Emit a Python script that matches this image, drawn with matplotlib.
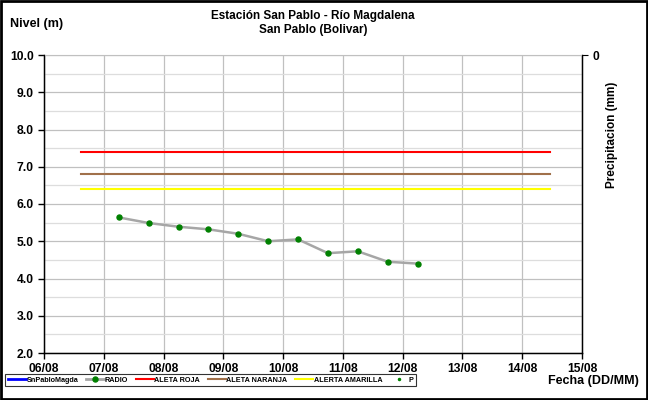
import matplotlib
matplotlib.use("Agg")
import matplotlib.pyplot as plt
import matplotlib.dates as mdates
from matplotlib.lines import Line2D
from matplotlib.patches import Rectangle
from datetime import datetime, timedelta

plt.rcParams['font.family'] = ['Liberation Sans', 'DejaVu Sans']
plt.rcParams['font.weight'] = 'bold'

title = "Estación San Pablo - Río Magdalena\nSan Pablo (Bolivar)"
radio_times = [datetime(2013, 8, 7, 6) + timedelta(hours=12 * i) for i in range(11)]
radio_levels = [5.64, 5.49, 5.39, 5.32, 5.20, 5.00, 5.05, 4.68, 4.73, 4.45, 4.40]
alert_span = [datetime(2013, 8, 6, 15), datetime(2013, 8, 14, 11)]
alerta_roja = 7.4
alerta_naranja = 6.8
alerta_amarilla = 6.4
x_start = datetime(2013, 8, 6)
x_end = datetime(2013, 8, 15)
y_ticks = [2.0, 3.0, 4.0, 5.0, 6.0, 7.0, 8.0, 9.0, 10.0]

fig = plt.figure(figsize=(6.48, 4.0), dpi=100)
ax = fig.add_axes([44/648, 47/400, 538/648, 298/400])

ax.plot(alert_span, [alerta_roja, alerta_roja], color='#FF0000', lw=1.5, zorder=3)
ax.plot(alert_span, [alerta_naranja, alerta_naranja], color='#A0704A', lw=1.5, zorder=3)
ax.plot(alert_span, [alerta_amarilla, alerta_amarilla], color='#FFFF00', lw=1.5, zorder=3)
ax.plot(radio_times, radio_levels, color='#A6A6A6', lw=1.8, marker='o', ms=3.6,
        mfc='#008000', mec='#008000', zorder=4)

ax.set_xlim(x_start, x_end)
ax.set_ylim(2.0, 10.0)
ax.xaxis.set_major_locator(mdates.DayLocator())
ax.xaxis.set_major_formatter(mdates.DateFormatter('%d/%m'))
ax.set_yticks(y_ticks)
ax.set_yticklabels([f"{v:.1f}" for v in y_ticks])
ax.set_yticks([v + 0.5 for v in y_ticks[:-1]], minor=True)
ax.grid(True, which='major', color='#C0C0C0', lw=0.9)
ax.grid(True, which='minor', axis='y', color='#DDDDDD', lw=0.9)
ax.tick_params(axis='both', which='major', labelsize=8.7, length=4, direction='out', width=1)
ax.tick_params(axis='x', pad=3.5)
ax.tick_params(axis='y', which='minor', length=0)
for s in ['left', 'bottom', 'right']:
    ax.spines[s].set_color('black')
    ax.spines[s].set_linewidth(1)
ax.spines['top'].set_color('#C0C0C0')
for lbl in ax.get_xticklabels() + ax.get_yticklabels():
    lbl.set_fontweight('bold')

ax2 = ax.twinx()
ax2.set_ylim(1, 0)
ax2.set_yticks([0])
ax2.set_yticklabels(['0'], fontweight='bold')
ax2.tick_params(axis='y', labelsize=8.7, length=4, direction='out')
ax2.spines['right'].set_color('black')
ax2.spines['top'].set_visible(False)
ax2.set_ylabel('Precipitacion (mm)', fontsize=8.5, fontweight='bold')
ax2.yaxis.set_label_coords(1.044, 0.733)

fig.text(313/648, 0.975, title, ha='center', va='top', fontsize=8.5, fontweight='bold', linespacing=1.25)
fig.text(0.015, 0.94, 'Nivel (m)', ha='left', va='center', fontsize=9, fontweight='bold')
fig.text(0.986, 0.048, 'Fecha (DD/MM)', ha='right', va='center', fontsize=9, fontweight='bold')

handles = [
    Line2D([], [], color='#0000FF', lw=2),
    Line2D([], [], color='#A6A6A6', lw=2, marker='o', ms=3.6, mfc='#008000', mec='#008000'),
    Line2D([], [], color='#FF0000', lw=1.5),
    Line2D([], [], color='#A0704A', lw=1.5),
    Line2D([], [], color='#FFFF00', lw=1.5),
    Line2D([], [], color='#008000', lw=0, marker='o', ms=1.5),
]
labels = ['SnPabloMagda', 'RADIO', 'ALETA ROJA', 'ALETA NARANJA', 'ALERTA AMARILLA', 'P']
leg = fig.legend(handles, labels, loc='center left', bbox_to_anchor=(0.008, 0.049),
                 ncol=6, frameon=True, fancybox=False, edgecolor='black',
                 handlelength=2.5, handletextpad=0.1, columnspacing=1.05,
                 borderpad=0.35, borderaxespad=0, prop={'weight': 'bold', 'size': 5.2})
leg.get_frame().set_linewidth(0.8)

fig.patches.append(Rectangle((0.002, 0.002), 0.996, 0.996, transform=fig.transFigure,
                             fill=False, edgecolor='black', lw=2))

fig.savefig('out.png', dpi=100)
